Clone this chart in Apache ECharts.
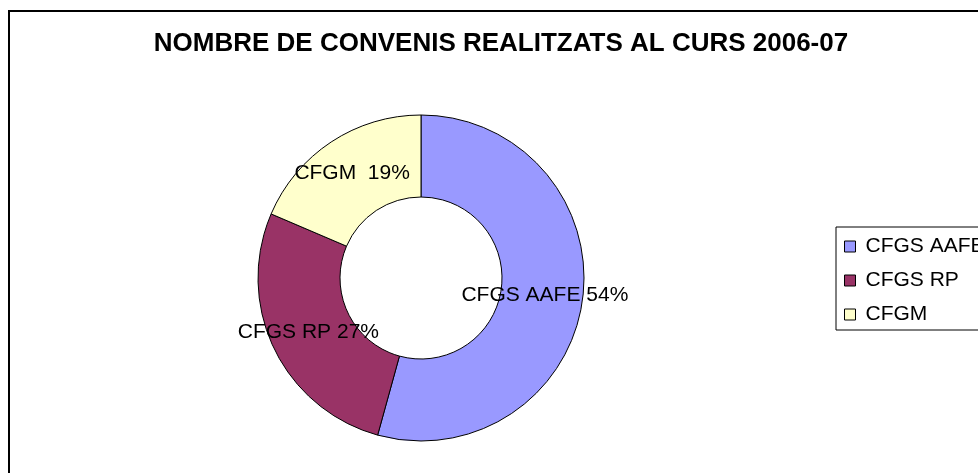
<!DOCTYPE html>
<html>
<head>
<meta charset="utf-8">
<script src="https://cdn.jsdelivr.net/npm/echarts@6/dist/echarts.min.js"></script>
<style>
  html, body { margin: 0; padding: 0; background: #fff; }
  #main { width: 978px; height: 473px; }
</style>
</head>
<body>
<div id="main"></div>
<script>
// dades del grafic
var categories = ['CFGS AAFE', 'CFGS RP', 'CFGM'];
var values = [38, 19, 13];
var labelSeps = [' ', ' ', '  '];   // a l'original CFGM porta dos espais
var colors = ['#9999FF', '#993366', '#FFFFCC'];

var font = 'Liberation Sans, Arial, sans-serif';

var chart = echarts.init(document.getElementById('main'));

var pieData = categories.map(function (name, i) {
  return { name: name, value: values[i] };
});

var option = {
  color: colors,
  animation: false,
  title: {
    text: 'NOMBRE DE CONVENIS REALITZATS AL CURS 2006-07',
    left: 501,
    textAlign: 'center',
    top: 31,
    padding: 0,
    textStyle: {
      fontFamily: font,
      fontSize: 26,
      fontWeight: 'bold',
      color: '#000'
    }
  },
  legend: {
    orient: 'vertical',
    left: 836,
    top: 227,
    padding: [9, 60, 5, 8],
    itemGap: 13,
    itemWidth: 11,
    itemHeight: 11,
    icon: 'rect',
    borderColor: '#000',
    borderWidth: 1,
    itemStyle: { borderColor: '#000', borderWidth: 1 },
    textStyle: {
      fontFamily: font,
      fontSize: 21,
      lineHeight: 21,
      color: '#000',
      padding: [0, 0, 0, 5]
    },
    data: categories
  },
  graphic: [
    {
      // marc del grafic, tallat per la dreta i per baix
      type: 'rect',
      shape: { x: 9, y: 11, width: 1000, height: 500 },
      style: { fill: null, stroke: '#000', lineWidth: 2 },
      silent: true
    }
  ],
  series: [
    {
      type: 'pie',
      center: [421, 278],
      radius: [81, 163],
      startAngle: 90,
      clockwise: true,
      avoidLabelOverlap: false,
      itemStyle: { borderColor: '#000', borderWidth: 1 },
      label: {
        show: true,
        position: 'inside',
        fontFamily: font,
        fontSize: 21,
        color: '#000',
        formatter: function (p) {
          return p.name + labelSeps[p.dataIndex] + Math.round(p.percent) + '%';
        }
      },
      labelLine: { show: false },
      emphasis: { disabled: true },
      data: pieData
    }
  ]
};

chart.setOption(option);
</script>
</body>
</html>
